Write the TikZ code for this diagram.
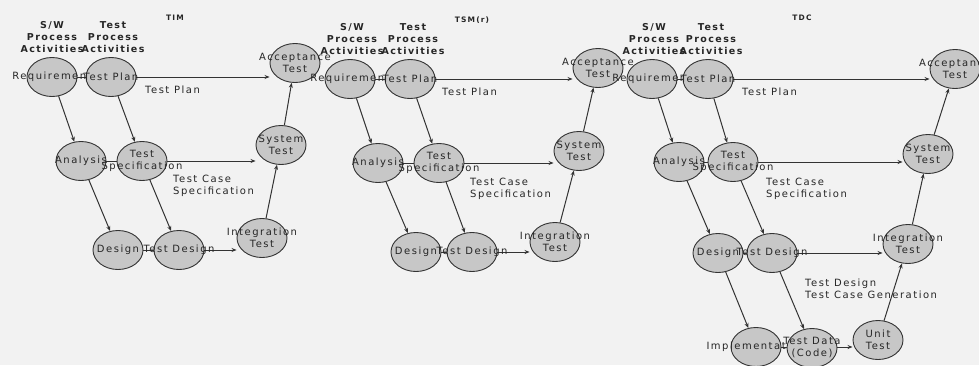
\documentclass[tikz,border=0pt]{standalone}
\usepackage{fontspec}
\setmainfont{DejaVu Sans}[LetterSpace=15]
\usetikzlibrary{shapes.geometric,arrows.meta,backgrounds}
\begin{document}
\begin{tikzpicture}[x=1pt,y=-1pt,
  every node/.style={font=\fontsize{10}{12}\selectfont, text=black!85},
  act/.style={ellipse, draw=black!80, line width=0.9pt, fill=black!22,
    minimum width=50pt, minimum height=39pt, inner sep=0pt, align=center},
  arr/.style={draw=black!80, line width=1pt, -{Stealth[length=5pt,width=4pt]}},
  hdr/.style={font=\bfseries\fontsize{9.5}{12}\selectfont, align=center, anchor=north, inner sep=0pt},
  lbl/.style={align=left, anchor=north west, inner sep=0pt},
  ttl/.style={font=\bfseries\fontsize{7.5}{9}\selectfont, inner sep=0pt}]
\newcommand{\zw}[1]{\makebox[0pt]{#1}}
\begin{scope}[on background layer]
\fill[white!95!black] (0,0) rectangle (979,365);
\end{scope}
\useasboundingbox (0,0) rectangle (979,365);

% ---------------- Panel 1: TIM
\node[ttl] (t1) at (175,18) {TIM};
\node[hdr] (h1a) at (52,21) {S/W\\Process\\Activities};
\node[hdr] (h1b) at (113,21) {Test\\Process\\Activities};
\node[act] (req1) at (52,77) {\zw{Requirement}};
\node[act] (tp1) at (111,77) {\zw{Test Plan}};
\node[act] (acc1) at (295,63) {\zw{Acceptance}\\\zw{Test}};
\node[act] (ana1) at (81,161) {\zw{Analysis}};
\node[act] (ts1) at (142,161) {\zw{Test}\\\zw{Specification}};
\node[act] (sys1) at (281,145) {\zw{System}\\\zw{Test}};
\node[act] (des1) at (118,250) {\zw{Design}};
\node[act] (td1) at (179,250) {\zw{Test Design}};
\node[act] (int1) at (262,238) {\zw{Integration}\\\zw{Test}};
\node[lbl] (l1a) at (145,86) {Test Plan};
\node[lbl] (l1b) at (173,175) {Test Case\\Specification};

% ---------------- Panel 2: TSM(r)
\node[ttl] (t2) at (472,20) {TSM(r)};
\node[hdr] (h2a) at (352,23) {S/W\\Process\\Activities};
\node[hdr] (h2b) at (413,23) {Test\\Process\\Activities};
\node[act] (req2) at (350,79) {\zw{Requirement}};
\node[act] (tp2) at (410,79) {\zw{Test Plan}};
\node[act] (acc2) at (598,68) {\zw{Acceptance}\\\zw{Test}};
\node[act] (ana2) at (378,163) {\zw{Analysis}};
\node[act] (ts2) at (439,163) {\zw{Test}\\\zw{Specification}};
\node[act] (sys2) at (579,151) {\zw{System}\\\zw{Test}};
\node[act] (des2) at (416,252) {\zw{Design}};
\node[act] (td2) at (472,252) {\zw{Test Design}};
\node[act] (int2) at (555,242) {\zw{Integration}\\\zw{Test}};
\node[lbl] (l2a) at (442,88) {Test Plan};
\node[lbl] (l2b) at (470,178) {Test Case\\Specification};

% ---------------- Panel 3: TDC
\node[ttl] (t3) at (802,18) {TDC};
\node[hdr] (h3a) at (654,23) {S/W\\Process\\Activities};
\node[hdr] (h3b) at (711,23) {Test\\Process\\Activities};
\node[act] (req3) at (652,79) {\zw{Requirement}};
\node[act] (tp3) at (708,79) {\zw{Test Plan}};
\node[act] (acc3) at (955,69) {\zw{Acceptance}\\\zw{Test}};
\node[act] (ana3) at (679,162) {\zw{Analysis}};
\node[act] (ts3) at (733,162) {\zw{Test}\\\zw{Specification}};
\node[act] (sys3) at (928,154) {\zw{System}\\\zw{Test}};
\node[act] (des3) at (718,253) {\zw{Design}};
\node[act] (td3) at (772,253) {\zw{Test Design}};
\node[act] (int3) at (908,244) {\zw{Integration}\\\zw{Test}};
\node[act] (imp3) at (756,347) {\zw{Implementation}};
\node[act] (tdat3) at (812,348) {\zw{Test Data}\\\zw{(Code)}};
\node[act] (unit3) at (878,340) {\zw{Unit}\\\zw{Test}};
\node[lbl] (l3a) at (742,88) {Test Plan};
\node[lbl] (l3b) at (766,178) {Test Case\\Specification};
\node[lbl] (l3c) at (805,279) {Test Design\\Test Case Generation};

\begin{scope}[on background layer]
% panel 1
\draw[arr] (req1.east) -- (req1.east -| acc1.west);
\draw[arr] (ana1.east) -- (ana1.east -| sys1.west);
\draw[arr] (des1.east) -- (des1.east -| int1.west);
\draw[arr] (req1) -- (ana1);
\draw[arr] (tp1) -- (ts1);
\draw[arr] (ana1) -- (des1);
\draw[arr] (ts1) -- (td1);
\draw[arr] (int1) -- (sys1);
\draw[arr] (sys1) -- (acc1);
% panel 2
\draw[arr] (req2.east) -- (req2.east -| acc2.west);
\draw[arr] (ana2.east) -- (ana2.east -| sys2.west);
\draw[arr] (des2.east) -- (des2.east -| int2.west);
\draw[arr] (req2) -- (ana2);
\draw[arr] (tp2) -- (ts2);
\draw[arr] (ana2) -- (des2);
\draw[arr] (ts2) -- (td2);
\draw[arr] (int2) -- (sys2);
\draw[arr] (sys2) -- (acc2);
% panel 3
\draw[arr] (req3.east) -- (req3.east -| acc3.west);
\draw[arr] (ana3.east) -- (ana3.east -| sys3.west);
\draw[arr] (des3.east) -- (des3.east -| int3.west);
\draw[arr] (imp3.east) -- (imp3.east -| unit3.west);
\draw[arr] (req3) -- (ana3);
\draw[arr] (tp3) -- (ts3);
\draw[arr] (ana3) -- (des3);
\draw[arr] (ts3) -- (td3);
\draw[arr] (des3) -- (imp3);
\draw[arr] (td3) -- (tdat3);
\draw[arr] (unit3) -- (int3);
\draw[arr] (int3) -- (sys3);
\draw[arr] (sys3) -- (acc3);
\end{scope}
\end{tikzpicture}
\end{document}
